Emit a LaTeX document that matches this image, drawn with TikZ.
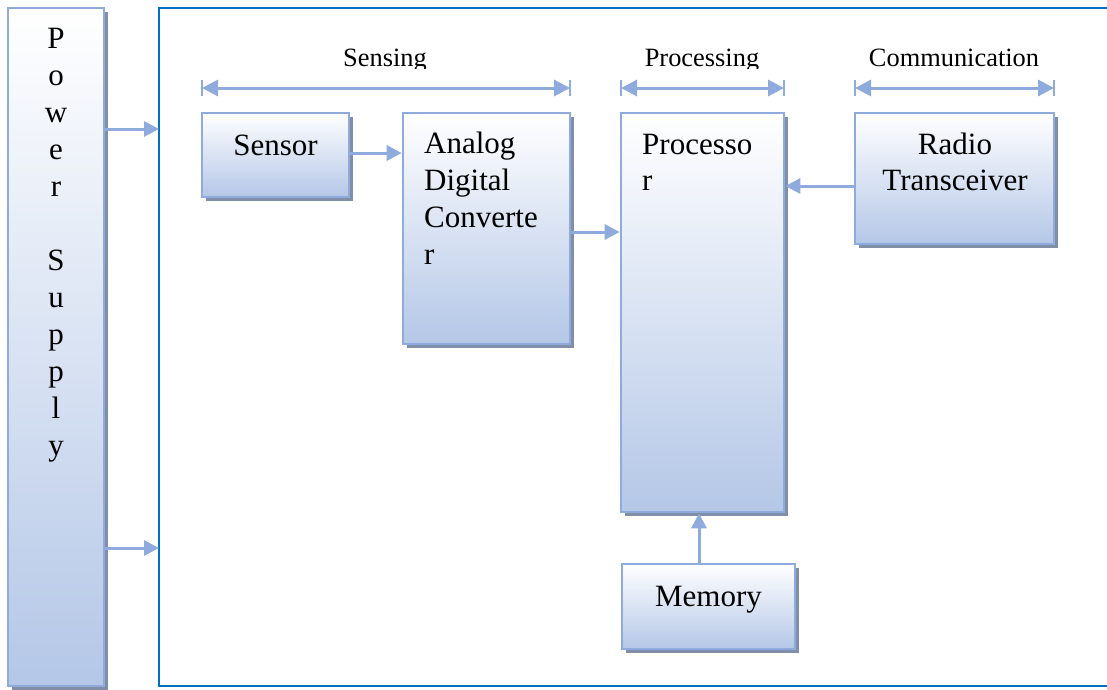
\documentclass[tikz,border=0pt]{standalone}
\usepackage{fontspec}
\setmainfont{Liberation Serif}
\usetikzlibrary{arrows.meta,shadows,calc}
\definecolor{bordc}{RGB}{143,170,220}
\definecolor{fillb}{RGB}{180,199,231}
\definecolor{shadc}{RGB}{128,142,168}
\definecolor{framec}{RGB}{0,112,192}
\tikzset{
  blk/.style={draw=bordc, line width=2.6pt, top color=white, bottom color=fillb,
    rectangle, inner sep=0pt,
    drop shadow={shadow xshift=3.5pt, shadow yshift=-3.5pt, fill=shadc, opacity=1}},
  conn/.style={draw=bordc, line width=3pt, -{Triangle[length=15pt,width=15pt]}},
  dimarrow/.style={draw=bordc, line width=3pt,
    {Triangle[length=16pt,width=16pt]}-{Triangle[length=16pt,width=16pt]}},
  dimbar/.style={draw=bordc, line width=2.4pt},
  boxtxt/.style={font=\fontsize{31}{37}\selectfont, inner sep=0pt},
  lbl/.style={font=\fontsize{26.4}{30}\selectfont, anchor=base, inner sep=0pt},
}
\begin{document}
\begin{tikzpicture}[x=1pt,y=-1pt]
\path[use as bounding box] (0,0) rectangle (1107,689);

% outer frame (right side runs off the page)
\coordinate (frameL) at (159,8);
\draw[framec, line width=2.4pt] (1107,8) -- (frameL) -- (159,686) -- (1107,686);

% blocks
\node[blk, minimum width=96pt, minimum height=678pt] (power) at (56,347) {};
\node[blk, minimum width=147pt, minimum height=84pt] (sensor) at (275.5,155) {};
\node[blk, minimum width=167pt, minimum height=231pt] (adc) at (486.5,228.5) {};
\node[blk, minimum width=163pt, minimum height=399pt] (proc) at (702.5,312.5) {};
\node[blk, minimum width=199pt, minimum height=131pt] (radio) at (954.5,178.5) {};
\node[blk, minimum width=173pt, minimum height=85pt] (memory) at (708.5,606.5) {};

% power supply letters
\foreach \c [count=\i] in {P,o,w,e,r,{},S,u,p,p,l,y}{
  \node[boxtxt, anchor=base] (pl\i) at (56,{48+37*(\i-1)}) {\c};
}

% block texts
\node[boxtxt, anchor=base] (tsensor) at (275.5,155) {Sensor};
\node[boxtxt, anchor=base west] (tadc1) at (424,153) {Analog};
\node[boxtxt, anchor=base west] (tadc2) at (424,190) {Digital};
\node[boxtxt, anchor=base west] (tadc3) at (424,227) {Converte};
\node[boxtxt, anchor=base west] (tadc4) at (424,264) {r};
\node[boxtxt, anchor=base west] (tproc1) at (642,154) {Processo};
\node[boxtxt, anchor=base west] (tproc2) at (642,190) {r};
\node[boxtxt, anchor=base] (tradio1) at (955,154) {Radio};
\node[boxtxt, anchor=base] (tradio2) at (955,190) {Transceiver};
\node[boxtxt, anchor=base] (tmem) at (708.5,606) {Memory};

% section labels (bottoms clipped as in the original)
\begin{scope}
  \clip (150,0) rectangle (1107,68);
  \node[lbl] (lsens) at (385,66) {Sensing};
  \node[lbl] (lproc) at (702,66) {Processing};
  \node[lbl] (lcomm) at (954,66) {Communication};
\end{scope}

% dimension arrows
\coordinate (s1) at (202,88); \coordinate (s2) at (570,88);
\coordinate (p1) at (621,88); \coordinate (p2) at (784,88);
\coordinate (c1) at (855,88); \coordinate (c2) at (1054,88);
\foreach \a/\b in {s1/s2,p1/p2,c1/c2}{
  \draw[dimarrow] (\a) -- (\b);
  \draw[dimbar] ($(\a)+(0,-8)$) -- ($(\a)+(0,8)$);
  \draw[dimbar] ($(\b)+(0,-8)$) -- ($(\b)+(0,8)$);
}

% connectors
\draw[conn] (power.east |- 0,129) -- (frameL |- 0,129);
\draw[conn] (power.east |- 0,548) -- (frameL |- 0,548);
\draw[conn] (sensor.east |- 0,153) -- (adc.west |- 0,153);
\draw[conn] (adc.east |- 0,232) -- (proc.west |- 0,232);
\draw[conn] (radio.west |- 0,186) -- (proc.east |- 0,186);
\draw[conn] (memory.north -| 699,0) -- (proc.south -| 699,0);
\end{tikzpicture}
\end{document}
